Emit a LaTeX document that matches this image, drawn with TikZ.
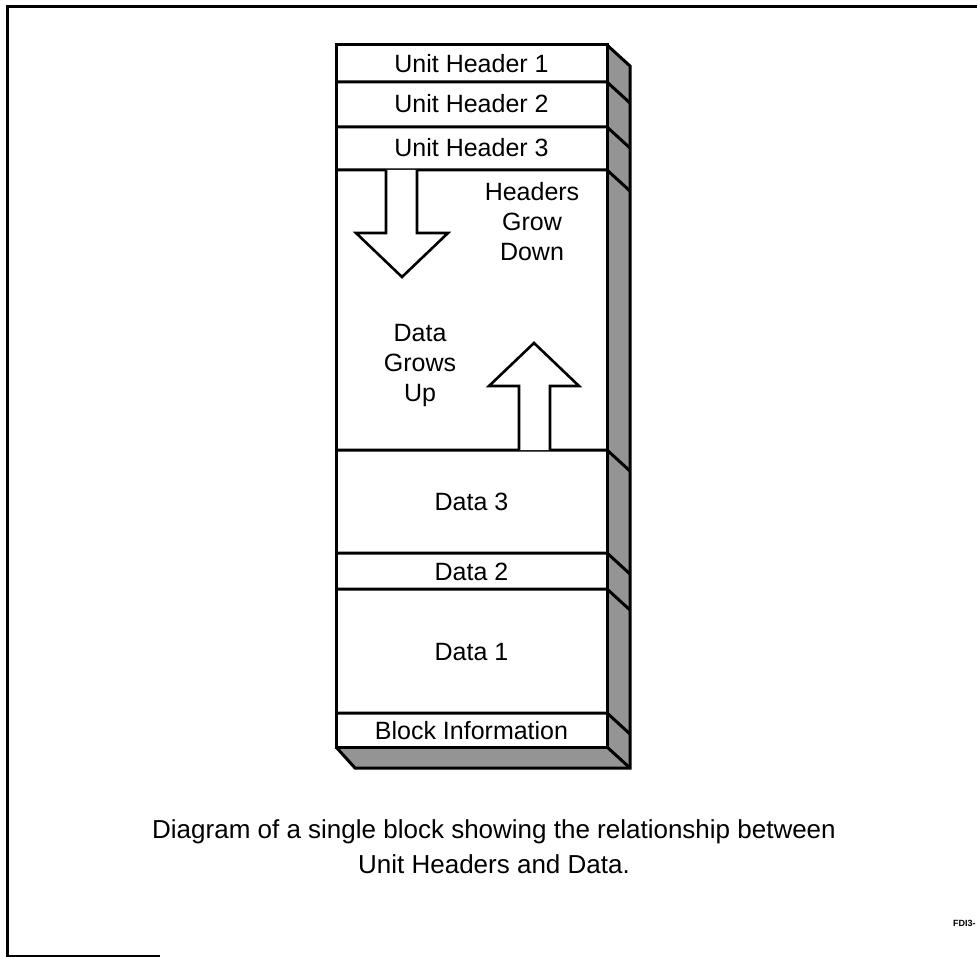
\documentclass[tikz,border=0pt]{standalone}
\usepackage{fontspec}
\setmainfont{Liberation Sans}
\begin{document}
\begin{tikzpicture}[x=1pt,y=-1pt,
  edge/.style={line width=3pt,line join=miter},
  side/.style={fill=black!42},
  growarrow/.style={line width=2.6pt,line join=miter,fill=white},
  label/.style={inner sep=0pt,font=\fontsize{25}{30}\selectfont,align=center},
  rowtext/.style={label,anchor=center}]
\useasboundingbox (0,0) rectangle (977,957);

% page frame (top, left and a short stretch of the bottom)
\draw[line width=3pt] (977,7) -- (7,7) -- (7,956) -- (160,956);

% shaded depth faces of the block
\fill[side] (607,45) -- (630,66) -- (630,768) -- (607,747) -- cycle;
\fill[side] (336,747) -- (607,747) -- (630,768) -- (355,768) -- cycle;

% front face of the block
\draw[edge] (336,45) rectangle (607,747);
% outline of the depth faces
\draw[edge] (607,45) -- (630,66) -- (630,768) -- (355,768) -- (336,747);
\draw[edge] (607,747) -- (630,768);

% row dividers, carried across onto the side face
\foreach \yy in {82,127,170,450,553,589,713}{
  \draw[edge] (336,\yy) -- (607,\yy) -- (630,\yy+21);
}

% row labels
\node[rowtext] (uh1) at (471.5,64) {Unit Header 1};
\node[rowtext] (uh2) at (471.5,104) {Unit Header 2};
\node[rowtext] (uh3) at (471.5,148) {Unit Header 3};
\node[rowtext] (d3) at (471.5,502) {Data 3};
\node[rowtext] (d2) at (471.5,572) {Data 2};
\node[rowtext] (d1) at (471.5,652) {Data 1};
\node[rowtext] (binfo) at (471.5,731) {Block Information};

% growth arrows
\draw[growarrow] (386,170) -- (386,233) -- (356,233) -- (402,277) -- (448,233) -- (417,233) -- (417,170);
\draw[growarrow] (519,450) -- (519,386) -- (489,386) -- (534,343) -- (579,386) -- (550,386) -- (550,450);

\node[label] (hgd) at (532,222) {Headers\\Grow\\Down};
\node[label] (dgu) at (420,365) {Data\\Grows\\Up};

% caption
\node[label,font=\fontsize{26}{35}\selectfont] (cap) at (494,847)
  {Diagram of a single block showing the relationship between\\Unit Headers and Data.};

% figure tag
\node[inner sep=0pt,anchor=west,font=\fontsize{9}{9}\selectfont\bfseries] (tag) at (953,923) {FDI3-};
\end{tikzpicture}
\end{document}
